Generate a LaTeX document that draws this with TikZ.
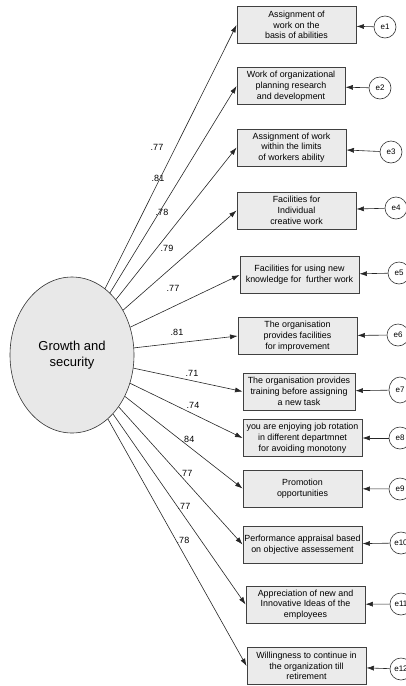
\documentclass[tikz,border=0pt]{standalone}
\usepackage{fontspec}
\setmainfont{Liberation Sans}
\usetikzlibrary{arrows.meta,shapes.geometric}
\begin{document}
\begin{tikzpicture}[x=1pt,y=-1pt]
    \useasboundingbox (0,0) rectangle (406,686);
    \clip (0,0) rectangle (406,686);

    \begin{scope}[every node/.style={ellipse, draw=black!80, fill=black!9, line width=0.6pt, minimum width=124pt, minimum height=156pt, align=center, font=\fontsize{13}{15.5}\selectfont}]
        \node (F) at (72,355) {Growth and\\security};
    \end{scope}

    \begin{scope}[every node/.style={rectangle, draw=black!75, fill=black!8, line width=0.9pt, minimum width=119pt, minimum height=37pt, inner sep=1pt, align=center, font=\fontsize{8.9}{10.8}\selectfont}]
        \node (1) at (296.5,25) {Assignment of\\work on the\\basis of abilities};
        \node[minimum width=108pt] (2) at (291,86) {Work of organizational\\planning research\\and development};
        \node[minimum width=109pt] (3) at (291.5,147.5) {Assignment of work\\within the limits\\of workers ability};
        \node (4) at (296.5,210.5) {Facilities for\\Individual\\creative work};
        \node (5) at (299.5,275) {Facilities for using new\\knowledge for\ \ further work};
        \node (6) at (297.5,336) {The organisation\\provides facilities\\for improvement};
        \node[minimum width=112pt] (7) at (299,391.5) {The organisation provides\\training before assigning\\a new task};
        \node (8) at (302.5,438) {you are enjoying job rotation\\in different departmnet\\for avoiding monotony};
        \node (9) at (302.5,488.5) {Promotion\\opportunities};
        \node (10) at (302.5,544.5) {Performance appraisal based\\on objective assessement};
        \node (11) at (305.5,604.5) {Appreciation of new and\\Innovative Ideas of the\\employees};
        \node (12) at (306.5,666) {Willingness to continue in\\the organization till\\retirement};
    \end{scope}

    \begin{scope}[every node/.style={circle, draw=black!80, fill=white, line width=0.6pt, minimum size=22pt, inner sep=0pt, font=\fontsize{8}{9}\selectfont}]
        \node (e1) at (385,27) {e1};
        \node (e2) at (380,88) {e2};
        \node (e3) at (391,152) {e3};
        \node (e4) at (396,208) {e4};
        \node (e5) at (399,273) {e5};
        \node (e6) at (398,335) {e6};
        \node[ellipse, minimum size=0pt, minimum width=22pt, minimum height=26pt] (e7) at (400,390) {e7};
        \node (e8) at (400,438) {e8};
        \node (e9) at (400,489) {e9};
        \node (e10) at (401,543) {e10};
        \node (e11) at (401,604) {e11};
        \node (e12) at (401,669) {e12};
    \end{scope}

    \begin{scope}[every node/.style={inner sep=0pt, font=\fontsize{9}{10}\selectfont}]
        \node (l1) at (157,147) {.77};
        \node (l2) at (158,178) {.81};
        \node (l3) at (162,212) {.78};
        \node (l4) at (167,248) {.79};
        \node (l5) at (173,288) {.77};
        \node (l6) at (177,332) {.81};
        \node (l7) at (192,373) {.71};
        \node (l8) at (193,405) {.74};
        \node (l9) at (188,439) {.84};
        \node (l10) at (186,473) {.77};
        \node (l11) at (184,506) {.77};
        \node (l12) at (183,540) {.78};
    \end{scope}

    \begin{scope}[>={Latex[length=7.5pt,width=5pt]}, every edge/.style={draw=black!85, line width=0.6pt}]
        \path [->] (F) edge (1.west);
        \path [->] (F) edge (2.west);
        \path [->] (F) edge (3.west);
        \path [->] (F) edge (4.west);
        \path [->] (F) edge (5.west);
        \path [->] (F) edge (6.west);
        \path [->] (F) edge (7.west);
        \path [->] (F) edge (8.west);
        \path [->] (F) edge (9.west);
        \path [->] (F) edge (10.west);
        \path [->] (F) edge (11.west);
        \path [->] (F) edge (12.west);

        \path [->] (e1) edge (1);
        \path [->] (e2) edge (2);
        \path [->] (e3) edge (3);
        \path [->] (e4) edge (4);
        \path [->] (e5) edge (5);
        \path [->] (e6) edge (6);
        \path [->] (e7) edge (7);
        \path [->] (e8) edge (8);
        \path [->] (e9) edge (9);
        \path [->] (e10) edge (10);
        \path [->] (e11) edge (11);
        \path [->] (e12) edge (12);
    \end{scope}
\end{tikzpicture}
\end{document}
